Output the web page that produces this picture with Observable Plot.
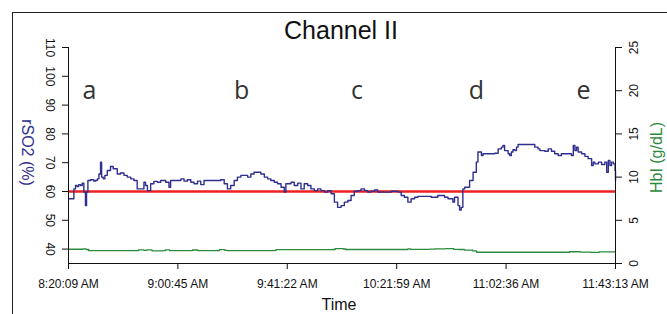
<!DOCTYPE html>
<html>
<head>
<meta charset="utf-8">
<script src="https://cdn.jsdelivr.net/npm/d3@7"></script>
<script src="https://cdn.jsdelivr.net/npm/@observablehq/plot@0.6"></script>
<style>
  html, body { margin: 0; padding: 0; background: #fff; overflow: hidden; }
  #wrap { position: relative; width: 667px; height: 314px; overflow: hidden; }
  #box { position: absolute; left: 12px; top: 12px; width: 720px; height: 400px; border: 1px solid #222; }
  #chart { position: absolute; left: 0; top: 0; }
</style>
</head>
<body>
<div id="wrap"><div id="box"></div><div id="chart"></div></div>
<script>
// ---- data ----
const startTime = "8:20:09 AM";
const tickLabels = ["8:20:09 AM", "9:00:45 AM", "9:41:22 AM", "10:21:59 AM", "11:02:36 AM", "11:43:13 AM"];
const leftTicks = [40, 50, 60, 70, 80, 90, 100, 110];
const rightTicks = [0, 5, 10, 15, 20, 25];
const baselineRSO2 = 60;
const phaseLabels = ["a", "b", "c", "d", "e"];
const phaseMinutes = [7.8, 64.3, 107.1, 151.4, 191.2];

// rSO2 (%) — minutes since start, value
const rso2Minutes = [0, 1.5, 2.0, 2.6, 3.2, 3.8, 4.5, 5.1, 5.7, 6.3, 6.7, 7.2, 8.2, 9.4, 10.0, 10.7, 11.3, 11.9, 12.3, 12.9, 13.5, 14.4, 15.6, 16.6, 18.1, 19.3, 20.6, 21.8, 23.1, 24.3, 25.5, 26.8, 28.0, 28.6, 29.3, 30.5, 31.7, 33.0, 34.2, 36.1, 37.3, 37.9, 39.8, 41.7, 42.9, 44.1, 45.4, 46.6, 47.9, 49.1, 50.3, 51.6, 54.0, 56.5, 57.8, 59.0, 60.2, 61.5, 62.7, 64.0, 66.5, 67.7, 68.9, 71.4, 72.7, 73.9, 75.1, 76.4, 77.6, 78.9, 80.1, 80.7, 82.6, 83.8, 85.1, 86.3, 87.5, 88.8, 90.0, 91.3, 92.5, 93.7, 95.0, 96.2, 97.5, 98.7, 99.9, 101.2, 102.4, 103.7, 104.9, 106.1, 107.4, 108.6, 109.9, 111.1, 112.3, 113.6, 114.8, 117.3, 119.8, 122.3, 123.5, 124.7, 126.0, 127.2, 128.5, 129.7, 132.2, 134.7, 137.1, 139.6, 140.9, 142.1, 142.7, 143.3, 144.6, 145.2, 145.8, 146.4, 147.1, 147.7, 148.9, 150.2, 151.4, 152.0, 152.6, 153.3, 153.9, 158.2, 159.5, 160.7, 161.3, 161.9, 163.2, 163.8, 164.4, 165.0, 165.7, 166.3, 166.9, 172.5, 173.1, 174.3, 175.0, 176.8, 178.1, 179.3, 180.5, 181.8, 183.0, 185.5, 186.7, 187.4, 188.0, 188.6, 189.2, 190.5, 191.7, 192.9, 194.2, 194.8, 195.4, 196.7, 197.9, 199.1, 199.8, 200.4, 201.0, 201.6, 202.3, 202.9, 203.07];
const rso2Values = [57.5, 57.5, 60.9, 62.1, 61.7, 62.4, 62.1, 62.9, 59.8, 55.1, 59.8, 63.8, 64.1, 63.6, 63.8, 64.4, 66.1, 70.2, 65.0, 64.4, 65.6, 67.3, 68.7, 67.9, 66.1, 66.4, 65.6, 65.0, 64.4, 63.8, 60.9, 60.9, 63.2, 62.1, 60.3, 62.7, 63.5, 63.2, 63.8, 63.2, 61.5, 63.8, 63.8, 64.4, 63.6, 64.1, 63.2, 62.7, 63.6, 62.4, 63.8, 63.8, 63.8, 64.1, 62.7, 60.9, 62.1, 63.8, 65.0, 65.6, 65.0, 66.1, 66.7, 66.1, 65.0, 64.4, 63.8, 63.2, 62.7, 61.5, 59.8, 62.7, 63.2, 62.1, 62.9, 60.9, 62.7, 62.1, 60.9, 60.3, 60.9, 60.3, 59.8, 60.3, 59.2, 56.3, 54.5, 55.1, 56.3, 56.9, 58.6, 60.1, 60.3, 60.9, 60.3, 59.8, 60.1, 60.5, 59.8, 59.8, 60.1, 59.8, 58.6, 58.0, 56.3, 57.5, 58.0, 58.3, 58.3, 58.0, 58.6, 58.0, 57.5, 57.5, 56.3, 58.0, 55.1, 53.6, 54.5, 60.9, 61.5, 61.5, 63.8, 66.7, 70.2, 73.7, 73.7, 72.5, 73.1, 73.3, 74.8, 75.4, 76.0, 74.2, 73.1, 72.5, 73.7, 74.5, 74.2, 75.4, 76.3, 76.3, 75.4, 74.8, 74.2, 74.0, 74.8, 74.0, 73.1, 72.5, 73.1, 73.1, 72.5, 76.0, 74.2, 75.4, 73.7, 73.1, 72.2, 71.4, 69.0, 70.2, 69.6, 70.2, 69.4, 70.2, 66.7, 70.8, 69.0, 70.2, 69.6, 67.3, 63.8];

// HbI (g/dL) — minutes since start, value
const hbiMinutes = [0, 5.5, 6.5, 7.5, 25, 26, 28, 29, 31, 35, 36, 37.5, 45, 46, 48, 55, 56, 58, 59, 76, 77, 98, 99, 102, 103, 125, 126, 127, 134, 136, 140, 143, 145, 147, 150, 151.5, 185, 186, 190, 194, 197, 203.07];
const hbiValues = [1.65, 1.7, 1.62, 1.48, 1.48, 1.58, 1.52, 1.58, 1.47, 1.5, 1.58, 1.5, 1.5, 1.56, 1.5, 1.5, 1.6, 1.52, 1.48, 1.5, 1.6, 1.62, 1.72, 1.68, 1.62, 1.62, 1.7, 1.64, 1.66, 1.7, 1.72, 1.64, 1.62, 1.55, 1.45, 1.3, 1.3, 1.36, 1.32, 1.28, 1.34, 1.32];

// ---- helpers ----
function toSeconds(s) {
  const [time, ampm] = s.split(" ");
  let [h, m, sec] = time.split(":").map(Number);
  if (ampm === "PM" && h !== 12) h += 12;
  if (ampm === "AM" && h === 12) h = 0;
  return h * 3600 + m * 60 + sec;
}
const t0 = toSeconds(startTime);
const tickMinutes = tickLabels.map(s => (toSeconds(s) - t0) / 60);
const tEnd = tickMinutes[tickMinutes.length - 1];

// secondary axis: HbI [0,25] shares the rSO2 [35,110] frame
const yMin = 35, yMax = 110;
const hbiScale = (yMax - yMin) / (rightTicks[rightTicks.length - 1] - rightTicks[0]);
const hbiToY = v => yMin + hbiScale * v;

const rso2 = rso2Minutes.map((m, i) => ({m, v: rso2Values[i]}));
const hbi = hbiMinutes.map((m, i) => ({m, v: hbiToY(hbiValues[i])}));
const phases = phaseLabels.map((l, i) => ({l, m: phaseMinutes[i]}));

const blue = "#2e2f8f";
const green = "#2c8a3c";
const red = "#ee2020";

const plot = Plot.plot({
  width: 667,
  height: 314,
  marginLeft: 68,
  marginRight: 52,
  marginTop: 47,
  marginBottom: 51,
  style: {fontFamily: "'Liberation Sans', Arial, sans-serif", fontSize: "12px", color: "#111", background: "transparent"},
  x: {domain: [0, tEnd], axis: null},
  y: {domain: [yMin, yMax], axis: null},
  marks: [
    Plot.ruleY([baselineRSO2], {stroke: red, strokeWidth: 2.6}),
    Plot.line(hbi, {x: "m", y: "v", stroke: green, strokeWidth: 1.3, curve: "step-after"}),
    Plot.line(rso2, {x: "m", y: "v", stroke: blue, strokeWidth: 1.4, curve: "step-after"}),
    // axis lines
    Plot.ruleX([0], {y1: yMin, y2: yMax, stroke: "#111"}),
    Plot.ruleX([tEnd], {y1: yMin, y2: yMax, stroke: "#111"}),
    Plot.ruleY([yMin], {x1: 0, x2: tEnd, stroke: "#111"}),
    Plot.axisX({anchor: "bottom", ticks: tickMinutes, tickFormat: (d, i) => tickLabels[i], tickSize: 6, tickPadding: 10, label: null, fontSize: 12, stroke: "#111"}),
    Plot.axisY({anchor: "left", ticks: leftTicks, tickSize: 6, tickPadding: 8, tickRotate: 90, textAnchor: "middle", lineAnchor: "top", label: null, fontSize: 12, stroke: "#111"}),
    Plot.axisY({anchor: "right", ticks: rightTicks.map(hbiToY), tickFormat: d => String(Math.round((d - yMin) / hbiScale)), tickSize: 6, tickPadding: 8, tickRotate: -90, textAnchor: "middle", lineAnchor: "top", label: null, fontSize: 12, stroke: "#111"}),
    // axis titles
    Plot.text(["rSO2 (%)"], {frameAnchor: "left", textAnchor: "middle", lineAnchor: "middle", rotate: 90, dx: -41, dy: -3, fill: blue, fontSize: 16}),
    Plot.text(["HbI (g/dL)"], {frameAnchor: "right", textAnchor: "middle", lineAnchor: "middle", rotate: -90, dx: 41, dy: 2, fill: green, fontSize: 16}),
    Plot.text(["Time"], {frameAnchor: "bottom", textAnchor: "middle", lineAnchor: "middle", dx: -3, dy: 41, fill: "#111", fontSize: 16}),
    Plot.text(["Channel II"], {frameAnchor: "top", textAnchor: "middle", lineAnchor: "middle", dx: -1, dy: -17, fill: "#111", fontSize: 25}),
    // phase letters
    Plot.text(phases, {x: "m", y: () => 95, text: "l", fill: "#333", fontSize: 25, fontFamily: "'Open Sans', sans-serif"})
  ]
});
document.getElementById("chart").appendChild(plot);
</script>
</body>
</html>
